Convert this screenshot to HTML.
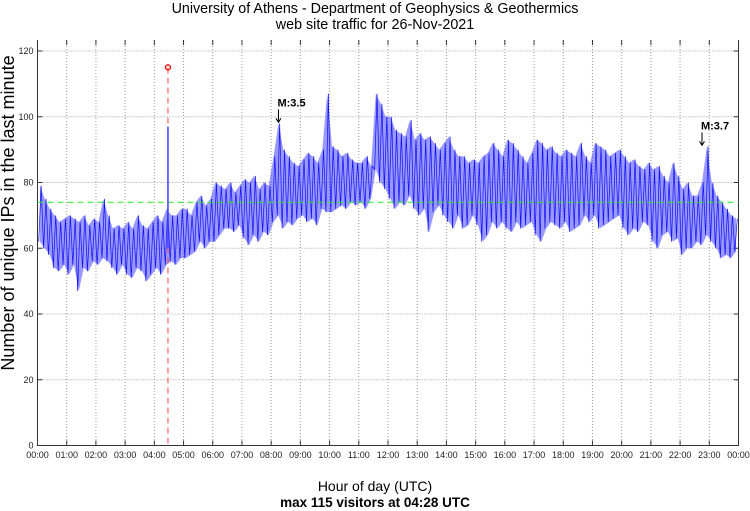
<!DOCTYPE html>
<html><head><meta charset="utf-8"><style>
body{margin:0;background:#fff}
svg{display:block;font-family:"Liberation Sans",sans-serif}
</style></head><body>
<svg id="chart" width="750" height="511" viewBox="0 0 750 511">
<text x="375" y="13" font-size="14.3" text-anchor="middle">University of Athens - Department of Geophysics &amp; Geothermics</text>
<text x="375" y="29" font-size="14.3" text-anchor="middle">web site traffic for 26-Nov-2021</text>
<text transform="translate(14,213) rotate(-90)" font-size="18" text-anchor="middle">Number of unique IPs in the last minute</text>
<text x="375" y="491" font-size="14" text-anchor="middle">Hour of day (UTC)</text>
<text x="375" y="507" font-size="13.5" font-weight="bold" text-anchor="middle">max 115 visitors at 04:28 UTC</text>
<g id="grid"></g><g id="axes"></g><g id="series"></g><g id="marks"></g>
</svg>
<script>
const hourLabels=["00:00","01:00","02:00","03:00","04:00","05:00","06:00","07:00","08:00","09:00","10:00","11:00","12:00","13:00","14:00","15:00","16:00","17:00","18:00","19:00","20:00","21:00","22:00","23:00","00:00"];
const yTicks=[0,20,40,60,80,100,120];
// 10-minute bins: high and low visitor counts
const highs=[79,75,72,70,68,69, 70,69,68,70,67,69, 68,75,70,66,67,66, 68,66,70,67,66,68, 70,68,72,70,70,72, 72,70,74,76,73,75,
80,79,78,80,77,79, 81,80,82,78,80,79, 88,98,90,88,86,85, 87,89,88,86,90,107, 91,90,88,89,87,86, 86,88,85,107,104,100,
100,96,95,94,99,93, 95,93,94,92,90,92, 94,90,88,88,86,87, 86,88,89,92,90,88, 93,92,90,88,86,89, 93,92,90,91,89,88,
90,89,88,92,88,86, 92,91,90,88,89,90, 88,86,87,85,84,86, 84,85,82,80,86,82, 78,80,76,76,80,91, 80,76,74,72,70,69];
const lows=[62,60,58,54,53,55, 52,55,47,54,53,56, 55,57,56,54,52,55, 52,51,54,53,50,52, 54,52,55,56,55,57, 57,58,59,62,60,62,
62,64,66,66,65,67, 63,61,64,62,65,64, 68,70,66,68,67,69, 70,68,69,67,72,71, 71,72,73,72,74,73, 74,72,75,84,80,78,
75,72,74,73,76,72, 70,72,65,71,73,70, 68,66,70,66,67,70, 67,62,64,68,66,68, 66,65,68,66,67,68, 64,62,66,68,67,66,
68,65,66,67,70,68, 70,66,67,68,69,70, 66,64,66,65,68,67, 62,60,64,65,62,63, 58,60,60,62,61,64, 62,60,57,58,57,59];
const maxValue=115, maxHour=4+28/60, meanValue=74;
const quakes=[{label:"M:3.5",hour:8.25,value:98},{label:"M:3.7",hour:22.75,value:91}];

const X0=37.5,X1=738.5,Y0=445.5,Y1=51;
const xs=h=>X0+(X1-X0)*h/24;
const ys=v=>Y0-(Y0-Y1)*v/120;
const NS="http://www.w3.org/2000/svg";
function mk(tag,attrs,parent){const e=document.createElementNS(NS,tag);for(const k in attrs)e.setAttribute(k,attrs[k]);parent.appendChild(e);return e;}
const gridG=document.getElementById('grid'),axesG=document.getElementById('axes'),seriesG=document.getElementById('series'),marksG=document.getElementById('marks');
hourLabels.forEach((l,i)=>{const x=xs(i);
 if(i>0&&i<24){const g=mk('line',{x1:x,x2:x,y1:40,y2:Y0,stroke:'#999','stroke-dasharray':'1,2','stroke-width':1},gridG);
 
 }
 const t=mk('line',{x1:x,x2:x,y1:Y0,y2:Y0-5,stroke:'#333'},axesG);
 
 
 const tt=mk('line',{x1:x,x2:x,y1:40,y2:45,stroke:'#333'},axesG);
 
 
 const tx=mk('text',{x:x,y:458,'font-size':9,'text-anchor':'middle',fill:'#222'},axesG);tx.textContent=l;
 
 
});
yTicks.forEach(v=>{const y=ys(v);
 if(v>0){const g=mk('line',{x1:X0,x2:X1,y1:y,y2:y,stroke:'#999','stroke-dasharray':'1,2'},gridG);
 
 }
 const t=mk('line',{x1:X0,x2:X0+5,y1:y,y2:y,stroke:'#333'},axesG);
 
 
 const tr=mk('line',{x1:X1-5,x2:X1,y1:y,y2:y,stroke:'#333'},axesG);
 
 
 const tx=mk('text',{x:X0-4,y:y+3,'font-size':9,'text-anchor':'end',fill:'#222'},axesG);tx.textContent=v;
 
 
});
const frame=mk('path',{d:`M${X0},40V${Y0}H${X1}V40`,fill:'none',stroke:'#333'},axesG);


// band + zigzag
const nBins=highs.length;let topPath='',botPath='',zzPath='';
for(let i=0;i<nBins;i++){const ha=xs(i/6+1/24),hb=xs(i/6+3/24);
 topPath+=(i?'L':'M')+xs(i/6+1/12)+','+ys(highs[i]);
 zzPath+=(i?'L':'M')+ha+','+ys(lows[i])+'L'+hb+','+ys(highs[i]);
}
for(let i=nBins-1;i>=0;i--)botPath+='L'+xs(i/6+1/12)+','+ys(lows[i]);
const band=mk('path',{d:topPath+botPath+'Z',fill:'rgba(70,70,255,0.55)',stroke:'none'},seriesG);


const trafficLine=mk('path',{d:zzPath,fill:'none',stroke:'#1010ff','stroke-width':0.7},seriesG);


// mean line
const meanLine=mk('line',{x1:X0,x2:X1,y1:ys(meanValue),y2:ys(meanValue),stroke:'#22ee22','stroke-dasharray':'6,4'},marksG);


// max marker
const mx=xs(maxHour);
const maxLine=mk('line',{x1:mx,x2:mx,y1:ys(maxValue),y2:Y0,stroke:'#ff4444','stroke-dasharray':'6,4'},marksG);


const spike=mk('line',{x1:mx,x2:mx,y1:ys(97),y2:ys(60),stroke:'#4040ff','stroke-width':1.5},marksG);


const maxCircle=mk('circle',{cx:mx,cy:ys(maxValue),r:2.5,fill:'none',stroke:'#ff0000','stroke-width':1.3},marksG);


quakes.forEach(q=>{const x=xs(q.hour),y=ys(q.value);
 const a=mk('path',{d:`M${x},${y-14}V${y-2}M${x-2.5},${y-5}L${x},${y-1}L${x+2.5},${y-5}`,fill:'none',stroke:'#000'},marksG);
 
 
 const t=mk('text',{x:x-1,y:y-17,'font-size':11,'font-weight':'bold'},marksG);t.textContent=q.label;
 
 
});
</script>
</body></html>
